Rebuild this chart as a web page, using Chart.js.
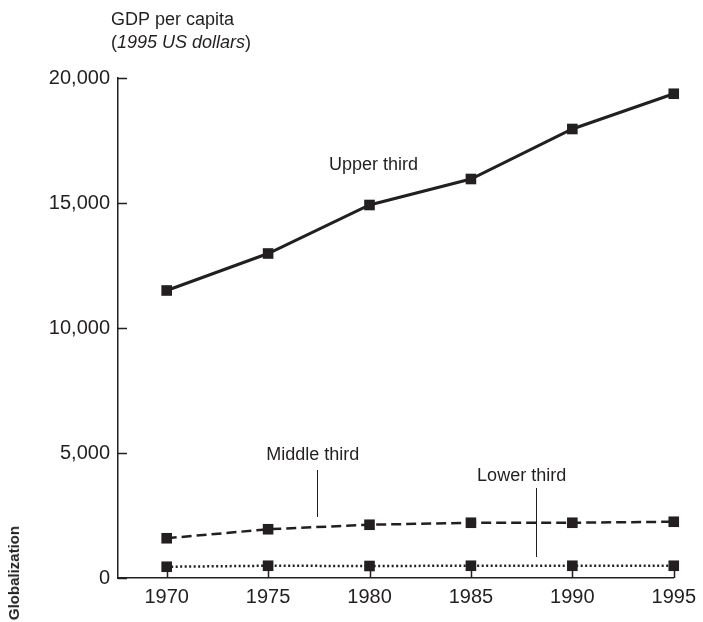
<!DOCTYPE html>
<html>
<head>
<meta charset="utf-8">
<script src="https://cdn.jsdelivr.net/npm/chart.js@4.4.1/dist/chart.umd.min.js"></script>
<style>
  body { margin: 0; background: #fff; }
  #wrap { position: relative; width: 703px; height: 622px; }
  #side {
    position: absolute; left: 5px; bottom: 2px;
    writing-mode: vertical-rl; transform: rotate(180deg);
    font: bold 15px "Liberation Sans Narrow", "Liberation Sans", Arial, sans-serif;
    color: #231f20;
  }
</style>
</head>
<body>
<div id="wrap">
  <canvas id="gdpChart" width="703" height="622"></canvas>
  <div id="side">Globalization</div>
</div>
<script>
const years = [1970, 1975, 1980, 1985, 1990, 1995];
const upperThird = [11500, 12980, 14920, 15960, 17960, 19370];
const middleThird = [1590, 1950, 2130, 2210, 2210, 2250];
const lowerThird = [450, 490, 480, 490, 490, 490];
const yTicks = [0, 5000, 10000, 15000, 20000];

// label positions in data units (year, dollars)
const seriesLabels = [
  { text: 'Upper third', x: 1980.2, y: 16520 },
  { text: 'Middle third', x: 1977.2, y: 4920 },
  { text: 'Lower third', x: 1987.5, y: 4080 }
];
const leaders = [
  { x: 1977.4, y1: 4320, y2: 2440 },
  { x: 1988.2, y1: 3600, y2: 840 }
];

const ink = '#231f20';
const fontFam = '"Liberation Sans", Arial, Helvetica, sans-serif';

function pts(vals) {
  return years.map((yr, i) => ({ x: yr, y: vals[i] }));
}

function series(label, vals, dash, width) {
  return {
    label: label,
    data: pts(vals),
    borderColor: ink,
    backgroundColor: ink,
    borderWidth: width,
    borderDash: dash,
    pointStyle: 'rect',
    pointRadius: 7.5,
    pointBorderWidth: 0,
    pointBackgroundColor: ink,
    tension: 0,
    clip: false
  };
}

const decorations = {
  id: 'decorations',
  afterDraw(chart) {
    const ctx = chart.ctx;
    const xs = chart.scales.x, ys = chart.scales.y;
    const area = chart.chartArea;
    ctx.save();
    ctx.strokeStyle = ink;
    ctx.fillStyle = ink;

    // inward tick marks
    ctx.lineWidth = 1.5;
    ctx.beginPath();
    yTicks.forEach(v => {
      const py = Math.round(ys.getPixelForValue(v)) + 0.5;
      ctx.moveTo(area.left, py);
      ctx.lineTo(area.left + 9, py);
    });
    years.forEach(v => {
      const px = Math.round(xs.getPixelForValue(v)) + 0.5;
      ctx.moveTo(px, area.bottom);
      ctx.lineTo(px, area.bottom - 7);
    });
    ctx.stroke();

    // leader lines
    ctx.lineWidth = 1;
    ctx.beginPath();
    leaders.forEach(l => {
      const px = Math.round(xs.getPixelForValue(l.x)) + 0.5;
      ctx.moveTo(px, ys.getPixelForValue(l.y1));
      ctx.lineTo(px, ys.getPixelForValue(l.y2));
    });
    ctx.stroke();

    // series labels
    ctx.font = '18px ' + fontFam;
    ctx.textAlign = 'center';
    ctx.textBaseline = 'middle';
    seriesLabels.forEach(s => {
      ctx.fillText(s.text, xs.getPixelForValue(s.x), ys.getPixelForValue(s.y));
    });

    // axis title
    ctx.textAlign = 'left';
    ctx.textBaseline = 'alphabetic';
    ctx.font = '18px ' + fontFam;
    ctx.fillText('GDP per capita', 111, 25);
    let x = 111;
    ctx.fillText('(', x, 48);
    x += ctx.measureText('(').width;
    ctx.font = 'italic 18px ' + fontFam;
    ctx.fillText('1995 US dollars', x, 48);
    x += ctx.measureText('1995 US dollars').width;
    ctx.font = '18px ' + fontFam;
    ctx.fillText(')', x, 48);
    ctx.restore();
  }
};

Chart.defaults.font.family = fontFam;
Chart.defaults.color = ink;

const ctx = document.getElementById('gdpChart').getContext('2d');
new Chart(ctx, {
  type: 'line',
  data: {
    datasets: [
      series('Upper third', upperThird, [], 3),
      series('Middle third', middleThird, [10, 5], 2.5),
      series('Lower third', lowerThird, [2, 2.5], 2.5)
    ]
  },
  options: {
    responsive: false,
    animation: false,
    layout: { padding: { left: 0, top: 78, right: 28, bottom: 0 } },
    plugins: {
      legend: { display: false },
      tooltip: { enabled: false },
      title: { display: false }
    },
    scales: {
      x: {
        type: 'linear',
        bounds: 'data',
        min: 1967.6,
        max: 1995,
        afterBuildTicks: s => { s.ticks = years.map(v => ({ value: v })); },
        afterFit: s => { s.height = 44; },
        grid: { display: false, drawTicks: false },
        border: { display: true, color: ink, width: 1.5 },
        ticks: {
          padding: 7,
          font: { size: 20 },
          color: ink,
          callback: v => String(v)
        }
      },
      y: {
        min: 0,
        max: 20000,
        afterBuildTicks: s => { s.ticks = yTicks.map(v => ({ value: v })); },
        afterFit: s => { s.width = 118; },
        grid: { display: false, drawTicks: false },
        border: { display: true, color: ink, width: 1.5 },
        ticks: {
          padding: 8,
          font: { size: 20 },
          color: ink,
          callback: v => v.toLocaleString('en-US')
        }
      }
    }
  },
  plugins: [decorations]
});
</script>
</body>
</html>
